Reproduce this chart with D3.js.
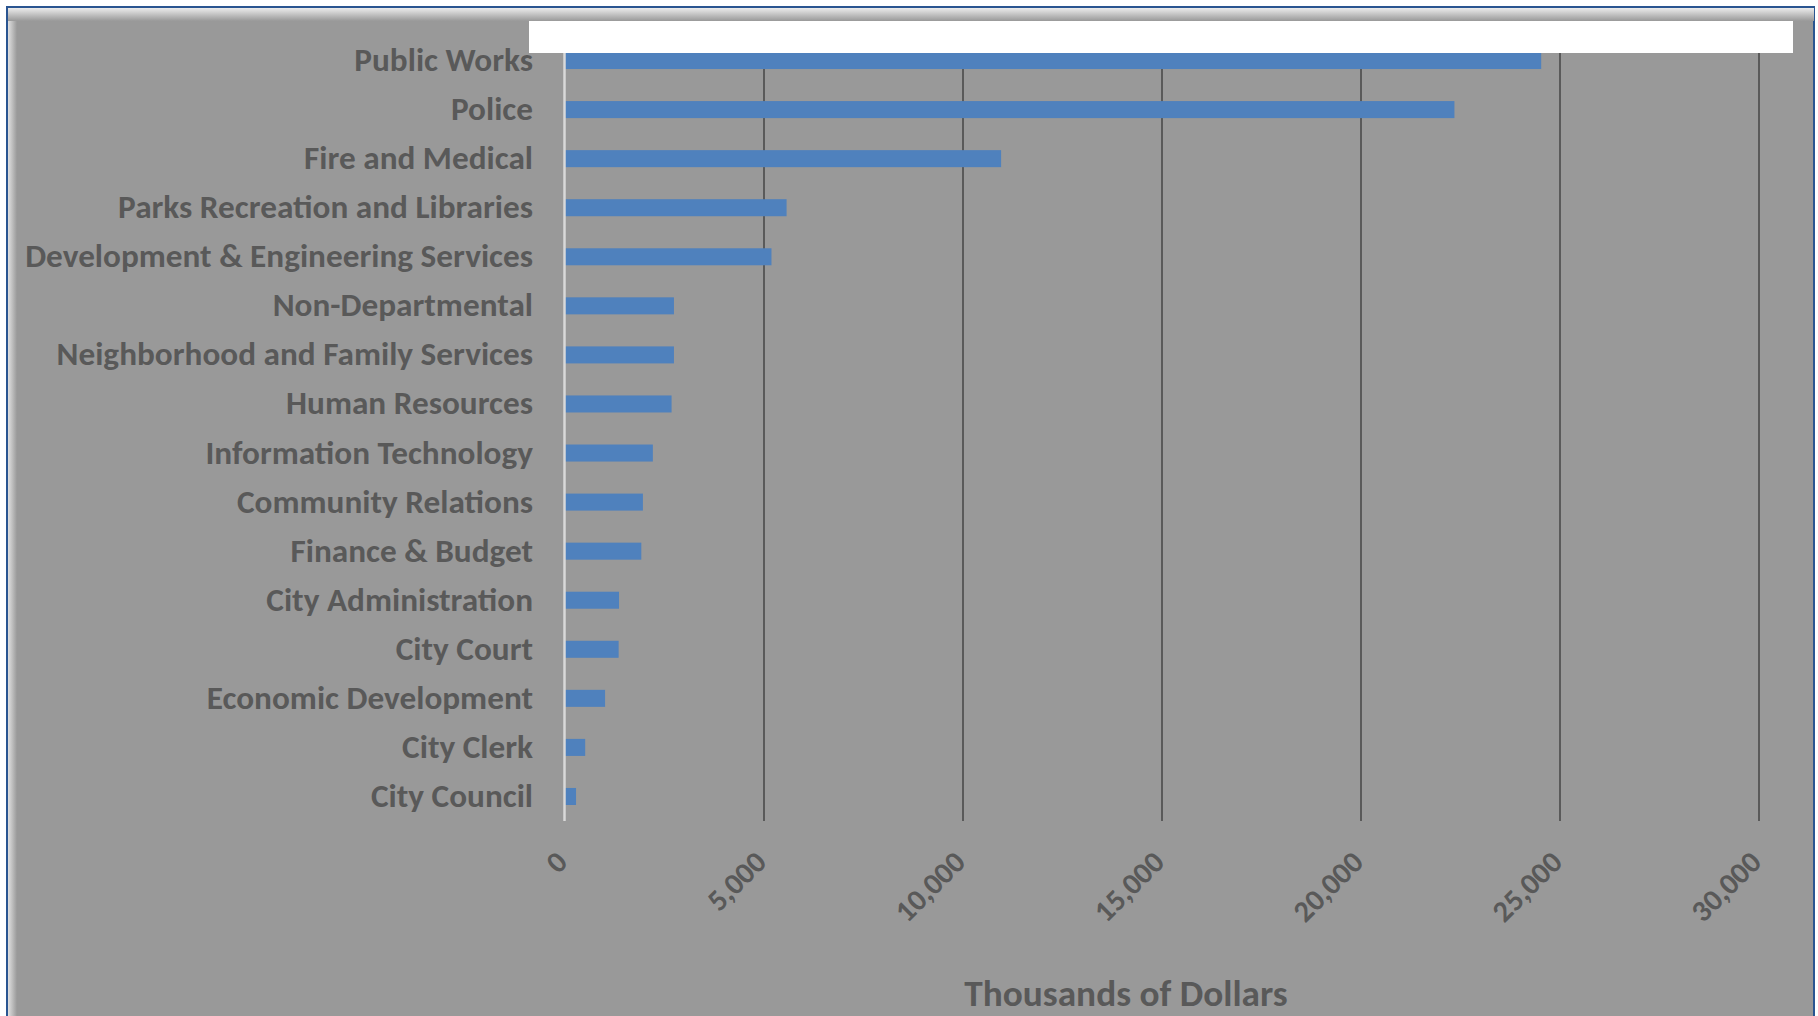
<!DOCTYPE html>
<html>
<head>
<meta charset="utf-8">
<script src="https://cdn.jsdelivr.net/npm/d3@7"></script>
<style>
  body { margin: 0; background: #fff; }
  svg { display: block; }
</style>
</head>
<body>
<script>
// departements, du plus gros au plus petit budget
const departments = [
  'Public Works',
  'Police',
  'Fire and Medical',
  'Parks Recreation and Libraries',
  'Development & Engineering Services',
  'Non-Departmental',
  'Neighborhood and Family Services',
  'Human Resources',
  'Information Technology',
  'Community Relations',
  'Finance & Budget',
  'City Administration',
  'City Court',
  'Economic Development',
  'City Clerk',
  'City Council'
]

// milliers de dollars
const spending = [24540, 22360, 10970, 5580, 5200, 2750, 2750, 2690, 2220, 1970, 1930, 1370, 1360, 1020, 520, 290]

const xTicks = [0, 5000, 10000, 15000, 20000, 25000, 30000]
const xTitle = 'Thousands of Dollars'

const rows = departments.map((d, i) => ({ name: d, value: spending[i] }))

const WIDTH = 1818
const HEIGHT = 1016
const TOP = 36
const BOTTOM = 821
const TEXT = '#595959'
const FONT = "Carlito, 'Open Sans', sans-serif"

const svg = d3.select('body').append('svg')
  .attr('width', WIDTH)
  .attr('height', HEIGHT)

/*
* Cadre gris avec un petit effet de biseau
*/
const defs = svg.append('defs')
const gTop = defs.append('linearGradient').attr('id', 'bevelTop')
  .attr('x1', 0).attr('y1', 0).attr('x2', 0).attr('y2', 1)
gTop.append('stop').attr('offset', 0).attr('stop-color', '#ececec')
gTop.append('stop').attr('offset', 1).attr('stop-color', '#999999')
const gLeft = defs.append('linearGradient').attr('id', 'bevelLeft')
  .attr('x1', 0).attr('y1', 0).attr('x2', 1).attr('y2', 0)
gLeft.append('stop').attr('offset', 0).attr('stop-color', '#e0e0e0')
gLeft.append('stop').attr('offset', 1).attr('stop-color', '#999999')

svg.append('rect')
  .attr('x', 7).attr('y', 7)
  .attr('width', 1807).attr('height', 1040)
  .attr('fill', '#999999')
  .attr('stroke', '#2a5591')
  .attr('stroke-width', 2)
svg.append('rect')
  .attr('x', 8).attr('y', 8).attr('width', 9).attr('height', 1030)
  .attr('fill', 'url(#bevelLeft)')
svg.append('rect')
  .attr('x', 8).attr('y', 8).attr('width', 1806).attr('height', 13)
  .attr('fill', 'url(#bevelTop)')

/*
* Echelles
*/
const xScale = d3.scaleLinear()
  .domain([0, 30000])
  .range([564.5, 1758.5])

const yScale = d3.scaleBand()
  .domain(departments)
  .range([TOP, BOTTOM])
  .paddingInner(0.653)
  .paddingOuter(0.3265)

/*
* Libelles des departements (on mesure pour garder la meme largeur)
*/
const labels = svg.append('g')
labels.selectAll('text')
  .data(rows)
  .enter()
  .append('text')
  .attr('x', 0)
  .attr('y', d => yScale(d.name) + yScale.bandwidth() / 2 + 10.5)
  .attr('text-anchor', 'end')
  .attr('font-family', FONT)
  .attr('font-weight', 700)
  .attr('font-size', 33)
  .attr('fill', TEXT)
  .text(d => d.name)

const longest = d3.max(labels.selectAll('text').nodes(), n => n.getComputedTextLength())
const k = 508 / longest
labels.attr('transform', `translate(533,0) scale(${k},1)`)

/*
* Axe horizontal + quadrillage
*/
const axisX = d3.axisBottom(xScale)
  .tickValues(xTicks)
  .tickSizeInner(-(BOTTOM - TOP))
  .tickSizeOuter(0)
  .tickFormat(d3.format(','))

const bottomAxis = svg.append('g')
  .attr('transform', `translate(0,${BOTTOM})`)
  .call(axisX)

bottomAxis.select('.domain').remove()
bottomAxis.selectAll('.tick line')
  .attr('stroke', d => d === 0 ? 'none' : '#5a5a5a')
  .attr('stroke-width', 2)
bottomAxis.selectAll('.tick text')
  .attr('x', 0).attr('y', 0).attr('dy', 0)
  .attr('transform', `translate(4,43) rotate(-45) scale(${k},1)`)
  .attr('text-anchor', 'end')
  .attr('font-family', FONT)
  .attr('font-weight', 700)
  .attr('font-size', 30)
  .attr('fill', TEXT)

/*
* Barres
*/
svg.append('g')
  .selectAll('rect')
  .data(rows)
  .enter()
  .append('rect')
  .attr('x', xScale(0))
  .attr('y', d => yScale(d.name))
  .attr('width', d => xScale(d.value) - xScale(0))
  .attr('height', yScale.bandwidth())
  .attr('fill', '#4f81bd')

// ligne du zero, claire, par-dessus les barres
svg.append('line')
  .attr('x1', xScale(0)).attr('x2', xScale(0))
  .attr('y1', TOP).attr('y2', BOTTOM)
  .attr('stroke', '#d9d9d9')
  .attr('stroke-width', 2.5)

/*
* Titre de l'axe
*/
svg.append('text')
  .attr('transform', `translate(1126,1006) scale(${k},1)`)
  .attr('text-anchor', 'middle')
  .attr('font-family', FONT)
  .attr('font-weight', 700)
  .attr('font-size', 37)
  .attr('fill', TEXT)
  .text(xTitle)

// bandeau blanc en haut (titre vide)
svg.append('rect')
  .attr('x', 529).attr('y', 21)
  .attr('width', 1264).attr('height', 32)
  .attr('fill', '#ffffff')
</script>
</body>
</html>
